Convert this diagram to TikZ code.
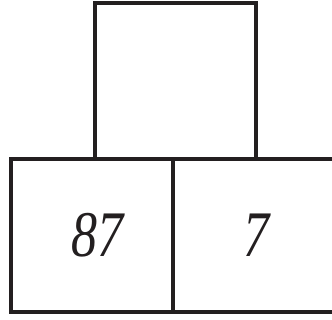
\documentclass[tikz,border=0pt]{standalone}
\usepackage{fontspec}
\setmainfont{Liberation Serif}
\definecolor{ink}{RGB}{35,31,32}
\begin{document}
\begin{tikzpicture}[x=1pt,y=-1pt,
  cell/.style={draw=ink, text=ink, line width=4pt, inner sep=0pt, font=\fontsize{65}{66}\selectfont\itshape},
  topcell/.style={cell, minimum width=160.6pt, minimum height=155.7pt},
  botcell/.style={cell, minimum width=161.7pt, minimum height=152.8pt}]
\useasboundingbox (0,0) rectangle (332,320);
\node[topcell] (top) at (175.5,81.35) {};
\node[botcell] (left) at (91.65,235.6) {\hspace*{12pt}\scalebox{0.8}[1]{87}};
\node[botcell] (right) at (253.35,235.6) {\hspace*{6pt}\scalebox{0.8}[1]{7}};
\end{tikzpicture}
\end{document}
